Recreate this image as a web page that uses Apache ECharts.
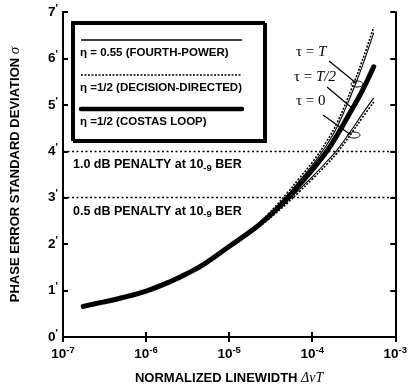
<!DOCTYPE html>
<html>
<head>
<meta charset="utf-8">
<script src="https://cdn.jsdelivr.net/npm/echarts@6/dist/echarts.min.js"></script>
<style>
  html, body { margin: 0; background: #fff; }
  #chart { width: 410px; height: 390px; }
</style>
</head>
<body>
<div id="chart"></div>
<script>
// normalized linewidth (x) and phase error std deviation (y)
const linewidth = [1.75e-7, 3e-7, 5e-7, 1e-6, 2e-6, 3e-6, 5e-6, 1e-5, 2e-5, 3e-5, 5e-5, 7e-5, 1e-4, 1.5e-4, 2e-4, 3e-4, 4e-4, 5.5e-4]
const ddTauT = [0.66, 0.75, 0.84, 0.99, 1.2, 1.35, 1.57, 1.96, 2.36, 2.66, 3.1, 3.42, 3.76, 4.22, 4.62, 5.36, 5.95, 6.67]
const fpTauT = [0.66, 0.75, 0.84, 0.99, 1.2, 1.35, 1.57, 1.95, 2.34, 2.63, 3.05, 3.36, 3.7, 4.14, 4.53, 5.25, 5.83, 6.55]
const costas = [0.66, 0.75, 0.84, 0.99, 1.2, 1.35, 1.57, 1.95, 2.33, 2.6, 2.98, 3.28, 3.6, 4.0, 4.35, 4.9, 5.3, 5.82]
const fpTau0 = [0.66, 0.75, 0.84, 0.99, 1.2, 1.35, 1.57, 1.94, 2.31, 2.57, 2.92, 3.18, 3.45, 3.78, 4.03, 4.47, 4.8, 5.15]
const ddTau0 = [0.66, 0.75, 0.84, 0.99, 1.19, 1.34, 1.56, 1.93, 2.29, 2.54, 2.88, 3.13, 3.4, 3.72, 3.97, 4.4, 4.72, 5.06]

// penalty reference levels
const penaltySigma = [4, 3]
const penaltyDb = ['1.0', '0.5']

const legendNames = ['η = 0.55 (FOURTH-POWER)', 'η =1/2 (DECISION-DIRECTED)', 'η =1/2 (COSTAS LOOP)']
const tauLabels = ['τ = ', 'τ = ', 'τ = 0']

const FONT = 'Liberation Sans'
const SERIF = 'Liberation Serif'

const pairs = ys => linewidth.map((x, i) => [x, ys[i]])

const thin = (name, ys, dashed) => ({
  name,
  type: 'line',
  data: pairs(ys),
  smooth: 0.4,
  showSymbol: false,
  silent: true,
  lineStyle: { color: '#000', width: dashed ? 1.6 : 1.1, type: dashed ? [2, 1.5] : 'solid' }
})

const chart = echarts.init(document.getElementById('chart'))

const tickStyle = { show: true, inside: true, length: 5, lineStyle: { color: '#000', width: 2 } }
const lineAxis = { show: true, lineStyle: { color: '#000', width: 2 } }

const penaltyMarks = {
  symbol: ['none', 'none'],
  silent: true,
  lineStyle: { color: '#000', width: 1.4, type: [2, 2.5] },
  data: penaltySigma.map((s, i) => ({
    yAxis: s,
    label: {
      show: true,
      position: 'insideStartBottom',
      distance: [10, 5],
      formatter: `{t|${penaltyDb[i]} dB PENALTY at 10}{s|-9}{t| BER}`,
      rich: {
        t: { fontFamily: FONT, fontWeight: 'bold', fontSize: 12.5, color: '#000' },
        s: { fontFamily: FONT, fontWeight: 'bold', fontSize: 9.5, color: '#000', padding: [7, 0, 0, 0] }
      }
    }
  }))
}

const option = {
  animation: false,
  grid: { left: 62, right: 14, top: 12, bottom: 50 },
  xAxis: [
    {
      type: 'log',
      logBase: 10,
      min: 1e-7,
      max: 1e-3,
      name: '{b|NORMALIZED LINEWIDTH }{i|Δν}{t|T}',
      nameLocation: 'middle',
      nameGap: 34,
      nameTextStyle: {
        rich: {
          b: { fontFamily: FONT, fontWeight: 'bold', fontSize: 13, color: '#000' },
          i: { fontFamily: SERIF, fontStyle: 'italic', fontSize: 14, color: '#000' },
          t: { fontFamily: SERIF, fontStyle: 'italic', fontSize: 14, color: '#000' }
        }
      },
      axisLine: lineAxis,
      axisTick: tickStyle,
      minorTick: { show: false },
      splitLine: { show: false },
      axisLabel: {
        margin: 8,
        formatter: v => `{b|10}{s|${Math.round(Math.log10(v))}}`,
        rich: {
          b: { fontFamily: FONT, fontWeight: 'bold', fontSize: 13.5, color: '#000' },
          s: { fontFamily: FONT, fontWeight: 'bold', fontSize: 9.5, color: '#000', padding: [0, 0, 8, 0] }
        }
      }
    },
    {
      type: 'log',
      logBase: 10,
      min: 1e-7,
      max: 1e-3,
      position: 'top',
      axisLine: lineAxis,
      axisTick: tickStyle,
      axisLabel: { show: false },
      splitLine: { show: false }
    }
  ],
  yAxis: [
    {
      type: 'value',
      min: 0,
      max: 7,
      interval: 1,
      name: '{b|PHASE ERROR STANDARD DEVIATION }{g|σ}',
      nameLocation: 'middle',
      nameGap: 40,
      nameRotate: 90,
      nameTextStyle: {
        rich: {
          b: { fontFamily: FONT, fontWeight: 'bold', fontSize: 13, color: '#000' },
          g: { fontFamily: SERIF, fontStyle: 'italic', fontSize: 15, color: '#000' }
        }
      },
      axisLine: lineAxis,
      axisTick: tickStyle,
      splitLine: { show: false },
      axisLabel: {
        margin: 5,
        formatter: v => `{n|${v}}{p|'}`,
        rich: {
          n: { fontFamily: FONT, fontWeight: 'bold', fontSize: 13.5, color: '#000' },
          p: { fontFamily: FONT, fontWeight: 'bold', fontSize: 10, color: '#000', padding: [0, 0, 6, 0] }
        }
      }
    },
    {
      type: 'value',
      min: 0,
      max: 7,
      interval: 1,
      position: 'right',
      axisLine: lineAxis,
      axisTick: tickStyle,
      axisLabel: { show: false },
      splitLine: { show: false }
    }
  ],
  series: [
    Object.assign(thin('dd τ=T', ddTauT, true), { markLine: penaltyMarks }),
    thin('fp τ=T', fpTauT, false),
    thin('fp τ=0', fpTau0, false),
    thin('dd τ=0', ddTau0, true),
    {
      name: 'costas',
      type: 'line',
      data: pairs(costas),
      smooth: 0.4,
      showSymbol: false,
      silent: true,
      lineStyle: { color: '#000', width: 5, cap: 'round' }
    }
  ],
  graphic: [
    // legend box
    {
      type: 'rect',
      shape: { x: 72, y: 22, width: 192, height: 118 },
      style: { fill: '#fff', stroke: '#000', lineWidth: 2, shadowColor: '#000', shadowOffsetX: 2, shadowOffsetY: 2, shadowBlur: 0 },
      z: 10
    },
    { type: 'line', shape: { x1: 81, y1: 40, x2: 242, y2: 40 }, style: { stroke: '#000', lineWidth: 1.3 }, z: 11 },
    { type: 'text', x: 80, y: 53, style: { text: legendNames[0], fill: '#000', font: `bold 11.5px "${FONT}"`, verticalAlign: 'middle' }, z: 11 },
    { type: 'line', shape: { x1: 81, y1: 75, x2: 242, y2: 75 }, style: { stroke: '#000', lineWidth: 1.3, lineDash: [2, 1.5] }, z: 11 },
    { type: 'text', x: 80, y: 88, style: { text: legendNames[1], fill: '#000', font: `bold 11.5px "${FONT}"`, verticalAlign: 'middle' }, z: 11 },
    { type: 'line', shape: { x1: 81, y1: 109, x2: 242, y2: 109 }, style: { stroke: '#000', lineWidth: 4.5, lineCap: 'round' }, z: 11 },
    { type: 'text', x: 80, y: 122, style: { text: legendNames[2], fill: '#000', font: `bold 11.5px "${FONT}"`, verticalAlign: 'middle' }, z: 11 },
    // tau annotations
    {
      type: 'text', x: 296, y: 52,
      style: { text: '{a|τ = }{b|T}', verticalAlign: 'middle', rich: { a: { font: `15px "${SERIF}"`, fill: '#000' }, b: { font: `italic 15px "${SERIF}"`, fill: '#000' } } },
      z: 11
    },
    {
      type: 'text', x: 294, y: 77,
      style: { text: '{a|τ = }{b|T/2}', verticalAlign: 'middle', rich: { a: { font: `15px "${SERIF}"`, fill: '#000' }, b: { font: `italic 15px "${SERIF}"`, fill: '#000' } } },
      z: 11
    },
    {
      type: 'text', x: 296, y: 101,
      style: { text: tauLabels[2], verticalAlign: 'middle', font: `15px "${SERIF}"`, fill: '#000' },
      z: 11
    },
    { type: 'line', shape: { x1: 329, y1: 61, x2: 356, y2: 83 }, style: { stroke: '#000', lineWidth: 1.2 }, z: 11 },
    { type: 'ellipse', shape: { cx: 357, cy: 84, rx: 6, ry: 3 }, style: { fill: 'none', stroke: '#000', lineWidth: 1 }, z: 11 },
    { type: 'line', shape: { x1: 327, y1: 87, x2: 352, y2: 108 }, style: { stroke: '#000', lineWidth: 1.2 }, z: 11 },
    { type: 'line', shape: { x1: 323, y1: 115, x2: 351, y2: 135 }, style: { stroke: '#000', lineWidth: 1.2 }, z: 11 },
    { type: 'ellipse', shape: { cx: 354, cy: 135, rx: 6, ry: 3 }, style: { fill: 'none', stroke: '#000', lineWidth: 1 }, z: 11 }
  ]
}

chart.setOption(option)
</script>
</body>
</html>
